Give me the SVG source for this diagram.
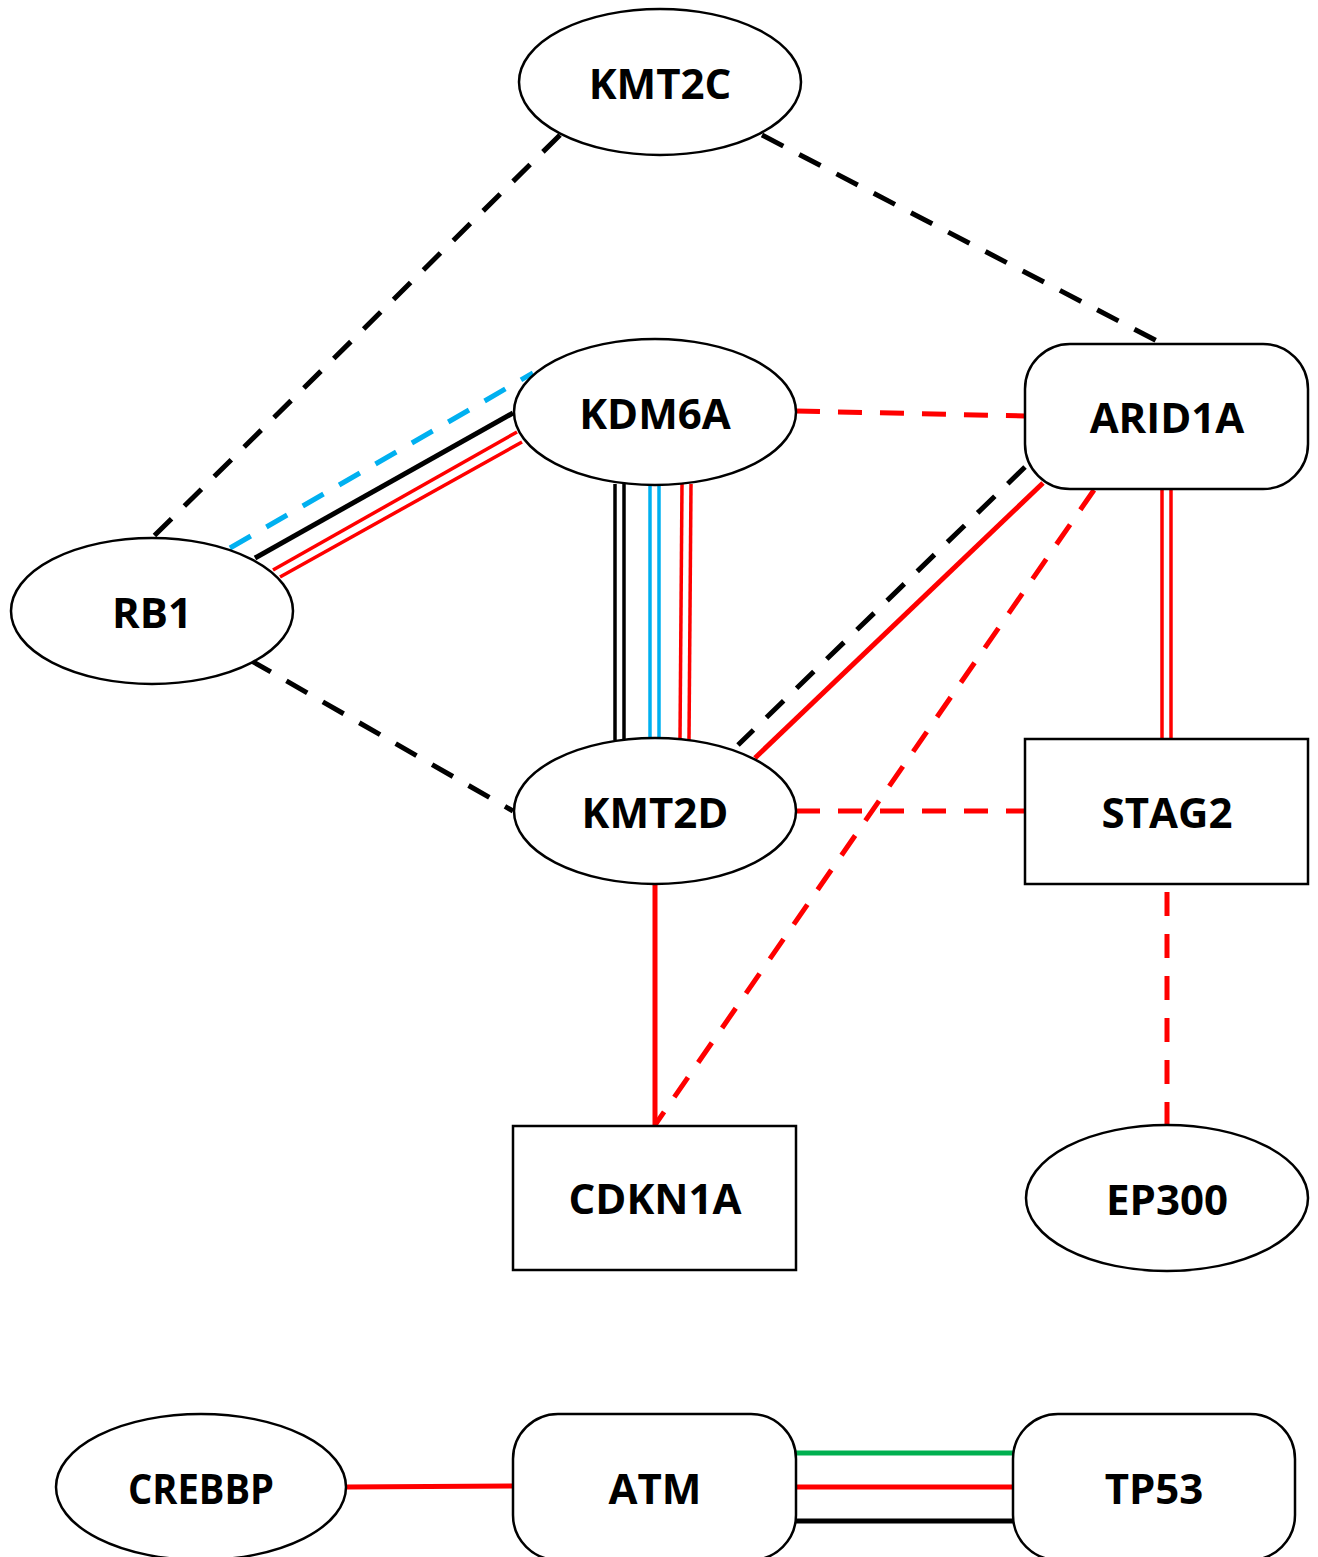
<svg xmlns="http://www.w3.org/2000/svg" width="1318" height="1557" viewBox="0 0 1318 1557">
  <style>
    .node { fill: #fff; stroke: #000; stroke-width: 2.5; }
    .lbl { font-family: "Open Sans", "Liberation Sans", sans-serif; font-weight: 700; font-size: 42px; fill: #000; text-anchor: middle; dominant-baseline: central; }
    .e { fill: none; stroke-width: 5; }
    .thin { stroke-width: 3.5; }
    .dash { stroke-dasharray: 24 18; }
    .k { stroke: #000; }
    .r { stroke: #ff0000; }
    .b { stroke: #00b0f0; }
    .g { stroke: #00b050; }
  </style>
  <rect width="1318" height="1557" fill="#fff"/>

  <g id="connectors">
    <!-- KMT2C links -->
    <line class="e k dash" x1="560" y1="135" x2="152" y2="538"/>
    <line class="e k dash" x1="762" y1="135" x2="1157" y2="341"/>
    <!-- RB1 links -->
    <line class="e k dash" x1="250" y1="660" x2="513" y2="811"/>
    <line class="e b dash" x1="230" y1="548" x2="533" y2="373"/>
    <line class="e k" x1="255" y1="558" x2="513" y2="413"/>
    <line class="e r thin" x1="273" y1="570" x2="517" y2="432"/>
    <line class="e r thin" x1="280" y1="577" x2="522" y2="442"/>
    <!-- KDM6A to KMT2D -->
    <line class="e k thin" x1="615" y1="484" x2="615" y2="740"/>
    <line class="e k thin" x1="624" y1="484" x2="624" y2="740"/>
    <line class="e b thin" x1="650" y1="484" x2="650" y2="740"/>
    <line class="e b thin" x1="659" y1="484" x2="659" y2="740"/>
    <line class="e r thin" x1="682" y1="484" x2="680" y2="740"/>
    <line class="e r thin" x1="691" y1="484" x2="689" y2="740"/>
    <!-- KDM6A to ARID1A -->
    <line class="e r dash" x1="796" y1="411" x2="1025" y2="416"/>
    <!-- ARID1A links -->
    <line class="e k dash" x1="1025" y1="467" x2="738" y2="745"/>
    <line class="e r" x1="1043" y1="483" x2="755" y2="758"/>
    <line class="e r dash" x1="1094" y1="490" x2="655" y2="1125"/>
    <line class="e r thin" x1="1162" y1="489" x2="1162" y2="739"/>
    <line class="e r thin" x1="1171" y1="489" x2="1171" y2="739"/>
    <!-- KMT2D links -->
    <line class="e r dash" x1="796" y1="811" x2="1025" y2="811"/>
    <line class="e r" x1="655" y1="884" x2="655" y2="1126"/>
    <!-- STAG2 to EP300 -->
    <line class="e r dash" x1="1167" y1="892" x2="1167" y2="1125"/>
    <!-- lower cluster -->
    <line class="e r" x1="347" y1="1487" x2="513" y2="1486"/>
    <line class="e g" x1="796" y1="1453" x2="1013" y2="1453"/>
    <line class="e r" x1="796" y1="1487" x2="1013" y2="1487"/>
    <line class="e k" x1="796" y1="1521" x2="1013" y2="1521"/>
  </g>

  <g id="KMT2C">
    <ellipse class="node" cx="660" cy="82" rx="141" ry="73"/>
    <text class="lbl" x="660" y="82">KMT2C</text>
  </g>
  <g id="KDM6A">
    <ellipse class="node" cx="655" cy="412" rx="141" ry="73"/>
    <text class="lbl" x="655" y="412">KDM6A</text>
  </g>
  <g id="RB1">
    <ellipse class="node" cx="152" cy="611" rx="141" ry="73"/>
    <text class="lbl" x="152" y="611">RB1</text>
  </g>
  <g id="KMT2D">
    <ellipse class="node" cx="655" cy="811" rx="141" ry="73"/>
    <text class="lbl" x="655" y="811">KMT2D</text>
  </g>
  <g id="ARID1A">
    <rect class="node" x="1025" y="344" width="283" height="145" rx="45" ry="45"/>
    <text class="lbl" x="1167" y="416">ARID1A</text>
  </g>
  <g id="STAG2">
    <rect class="node" x="1025" y="739" width="283" height="145"/>
    <text class="lbl" x="1167" y="811">STAG2</text>
  </g>
  <g id="CDKN1A">
    <rect class="node" x="513" y="1126" width="283" height="144"/>
    <text class="lbl" x="655" y="1197">CDKN1A</text>
  </g>
  <g id="EP300">
    <ellipse class="node" cx="1167" cy="1198" rx="141" ry="73"/>
    <text class="lbl" x="1167" y="1198">EP300</text>
  </g>
  <g id="CREBBP">
    <ellipse class="node" cx="201" cy="1487" rx="145" ry="73"/>
    <text class="lbl" x="201" y="1487" textLength="146" lengthAdjust="spacingAndGlyphs">CREBBP</text>
  </g>
  <g id="ATM">
    <rect class="node" x="513" y="1414" width="283" height="146" rx="45" ry="45"/>
    <text class="lbl" x="655" y="1487">ATM</text>
  </g>
  <g id="TP53">
    <rect class="node" x="1013" y="1414" width="282" height="146" rx="45" ry="45"/>
    <text class="lbl" x="1154" y="1487">TP53</text>
  </g>
</svg>
